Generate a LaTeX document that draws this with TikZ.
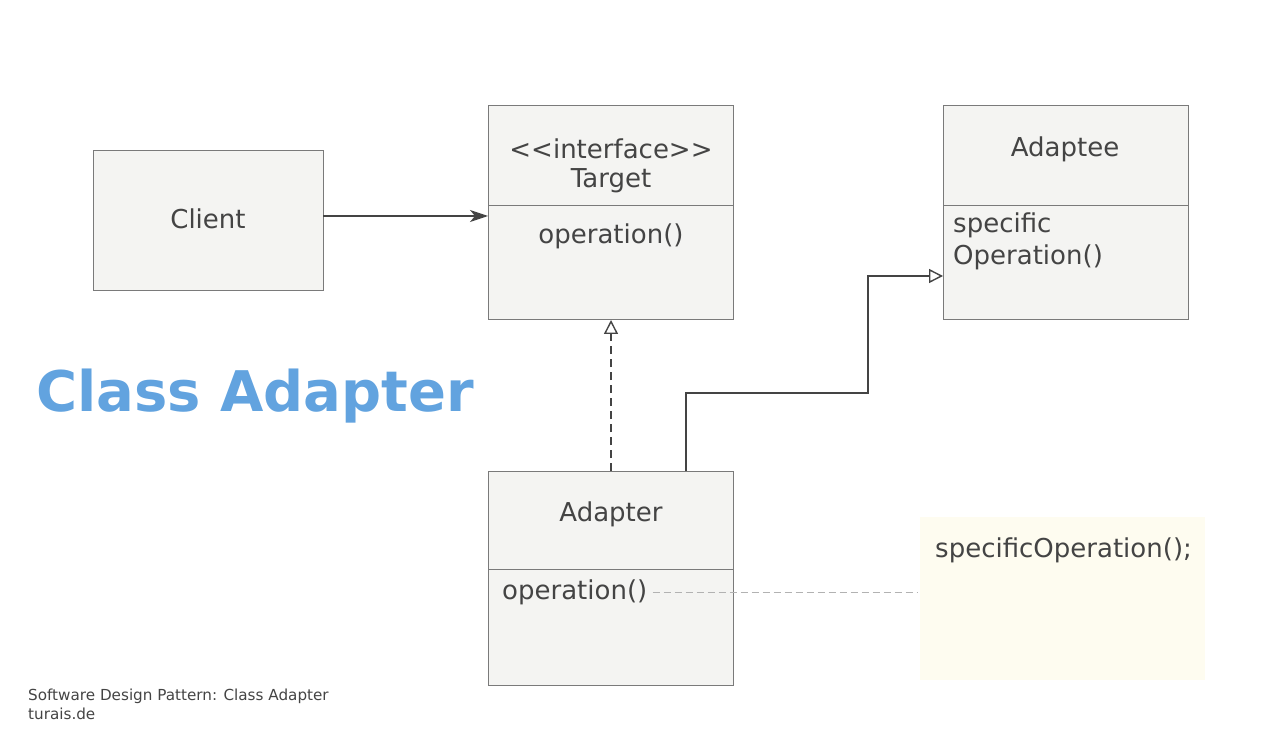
\documentclass[tikz,border=0pt]{standalone}
\usepackage{fontspec}
\setmainfont{DejaVu Sans}
\usetikzlibrary{arrows.meta}
\definecolor{boxfill}{HTML}{F4F4F2}
\definecolor{boxline}{HTML}{7A7A7A}
\definecolor{txt}{HTML}{444444}
\definecolor{notefill}{HTML}{FEFCF0}
\definecolor{titleblue}{HTML}{62A3DF}
\begin{document}
\begin{tikzpicture}[x=1pt,y=-1pt,
  box/.style={draw=boxline,fill=boxfill,line width=1pt},
  lbl/.style={text=txt,font=\fontsize{26}{30}\selectfont,inner sep=0},
  conn/.style={draw=txt,line width=1.4pt},
  tri/.style={-{Triangle[open,length=14pt,width=14pt]}}]
\useasboundingbox (0,0) rectangle (1280,751);
% boxes
\draw[box] (93,151) rectangle (323,291);
\node[lbl] (client) at (208,219) {Client};
\coordinate (clientE) at (323,216);
\draw[box] (488,106) rectangle (733,320);
\draw[boxline] (488,205) -- (733,205);
\node[lbl] (iface) at (611,149) {{<}{<}interface{>}{>}};
\node[lbl] (target) at (611,181) {Target};
\node[lbl] (top) at (611,236) {operation()};
\coordinate (targetW) at (488,216);
\coordinate (targetS) at (611,320);
\draw[box] (943,106) rectangle (1188,320);
\draw[boxline] (943,205) -- (1188,205);
\node[lbl] (adaptee) at (1065,149) {Adaptee};
\node[lbl,anchor=west] (spec) at (953,225) {specific};
\node[lbl,anchor=west] (sop) at (953,257) {Operation()};
\coordinate (adapteeW) at (943,276);
\draw[box] (488,471) rectangle (733,685);
\draw[boxline] (488,569) -- (733,569);
\node[lbl] (adapter) at (611,514) {Adapter};
\node[lbl,anchor=west] (aop) at (502,592) {operation()};
\coordinate (adapterN1) at (611,471);
\coordinate (adapterN2) at (686,471);
\fill[notefill] (920,517) rectangle (1205,680);
\node[lbl,anchor=west] (note) at (935,550) {specificOperation();};
\coordinate (noteW) at (918,592);
% connectors
\draw[conn,-{Stealth[length=18pt,width=12pt,inset=5pt]}] (clientE) -- (targetW);
\draw[conn,dash pattern=on 8pt off 5pt,tri] (adapterN1) -- (targetS);
\draw[conn,tri] (adapterN2) -- (686,393) -- (868,393) -- (868,276) -- (adapteeW);
\draw[gray!60,line width=1pt,dash pattern=on 7pt off 4pt] (aop.east)++(5,0) -- (noteW);
% title
\node[anchor=west,text=titleblue,font=\bfseries\fontsize{56}{64}\selectfont,inner sep=0] (title) at (36,396) {Class Adapter};
\node[anchor=west,text=txt,font=\fontsize{15.2}{18}\selectfont,inner sep=0] (f1) at (28,696) {Software Design Pattern: Class Adapter};
\node[anchor=west,text=txt,font=\fontsize{15.2}{18}\selectfont,inner sep=0] (f2) at (28,714) {turais.de};
\end{tikzpicture}
\end{document}
